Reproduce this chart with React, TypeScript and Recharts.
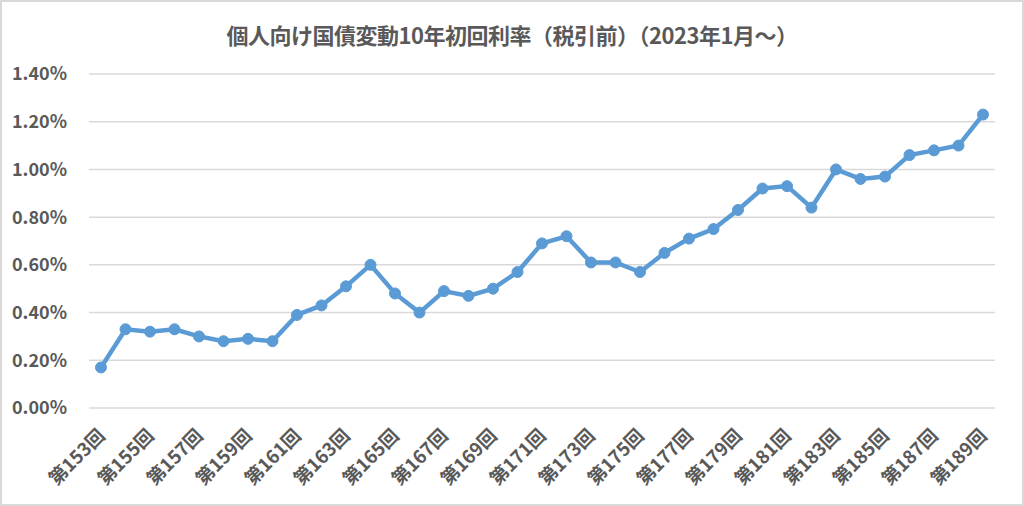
import React from 'react';
import { LineChart, Line, XAxis, YAxis, CartesianGrid } from 'recharts';

const rounds = [
  '第153回', '第154回', '第155回', '第156回', '第157回', '第158回', '第159回', '第160回',
  '第161回', '第162回', '第163回', '第164回', '第165回', '第166回', '第167回', '第168回',
  '第169回', '第170回', '第171回', '第172回', '第173回', '第174回', '第175回', '第176回',
  '第177回', '第178回', '第179回', '第180回', '第181回', '第182回', '第183回', '第184回',
  '第185回', '第186回', '第187回', '第188回', '第189回',
];

// 初回利率（%）
const rates = [
  0.17, 0.33, 0.32, 0.33, 0.30, 0.28, 0.29, 0.28,
  0.39, 0.43, 0.51, 0.60, 0.48, 0.40, 0.49, 0.47,
  0.50, 0.57, 0.69, 0.72, 0.61, 0.61, 0.57, 0.65,
  0.71, 0.75, 0.83, 0.92, 0.93, 0.84, 1.00, 0.96,
  0.97, 1.06, 1.08, 1.10, 1.23,
];

const yTicks = [0, 0.2, 0.4, 0.6, 0.8, 1.0, 1.2, 1.4];

const title = '個人向け国債変動10年初回利率（税引前）（2023年1月～）';

const data = rounds.map((round, i) => ({ round, rate: rates[i] }));

const FONT = '"Noto Sans CJK JP", "Noto Sans", sans-serif';
const TEXT_COLOR = '#595959';
const LINE_COLOR = '#5b9bd5';

function RoundTick({ x, y, payload }: any) {
  return (
    <g transform={`translate(${x + 5},${y + 29})`}>
      <text
        textAnchor="end"
        transform="rotate(-45)"
        fill={TEXT_COLOR}
        fontSize={18.5}
        fontWeight="bold"
        fontFamily={FONT}
      >
        {payload.value}
      </text>
    </g>
  );
}

export default function App() {
  return (
    <div
      style={{
        position: 'fixed',
        top: 0,
        left: 0,
        width: 1024,
        height: 506,
        background: '#fff',
        border: '2px solid #d9d9d9',
        boxSizing: 'border-box',
        fontFamily: FONT,
      }}
    >
      <div
        style={{
          position: 'absolute',
          top: 16,
          left: 0,
          width: '100%',
          textAlign: 'center',
          fontSize: 22,
          fontWeight: 'bold',
          color: TEXT_COLOR,
          letterSpacing: -0.5,
        }}
      >
        {title}
      </div>
      <div style={{ position: 'absolute', top: -2, left: -2 }}>
        <LineChart width={1024} height={506} data={data} margin={{ top: 74, right: 29, bottom: 0, left: 0 }}>
          <CartesianGrid vertical={false} stroke="#d9d9d9" strokeWidth={1.5} />
          <XAxis
            dataKey="round"
            interval={1}
            tickLine={false}
            axisLine={false}
            tickSize={0}
            tickMargin={0}
            height={98}
            padding={{ left: 12, right: 12 }}
            tick={<RoundTick />}
          />
          <YAxis
            domain={[0, 1.4]}
            ticks={yTicks}
            width={89}
            tickLine={false}
            axisLine={false}
            tickSize={0}
            tickMargin={22}
            tickFormatter={(v: number) => `${v.toFixed(2)}%`}
            tick={{ fill: TEXT_COLOR, fontSize: 18, fontWeight: 'bold', fontFamily: FONT }}
          />
          <Line
            type="linear"
            dataKey="rate"
            stroke={LINE_COLOR}
            strokeWidth={4.5}
            dot={{ r: 5.5, fill: LINE_COLOR, stroke: LINE_COLOR, strokeWidth: 1 }}
            activeDot={false}
            isAnimationActive={false}
          />
        </LineChart>
      </div>
    </div>
  );
}
